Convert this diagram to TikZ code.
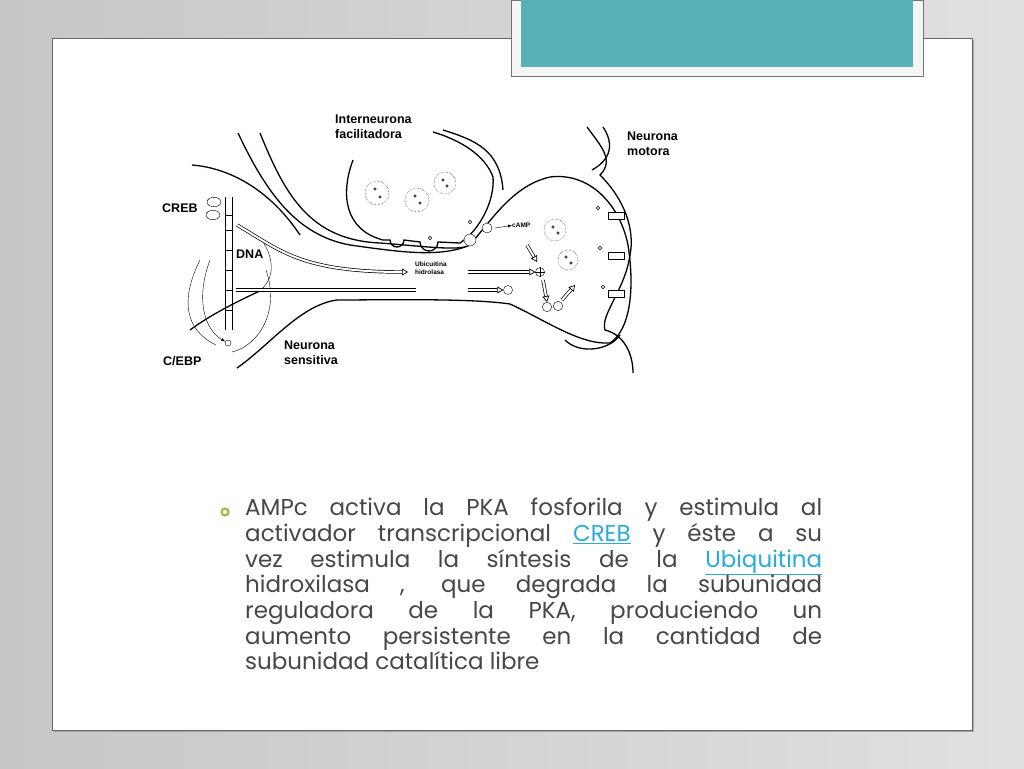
\documentclass[tikz,border=0pt]{standalone}
\usepackage{fontspec}
\setmainfont{Poppins}
\newfontfamily\lblfont{Liberation Sans}
\usetikzlibrary{arrows.meta,positioning,shapes.geometric}
\definecolor{teal}{HTML}{5AB0B8}
\definecolor{linkblue}{HTML}{2AACD8}
\definecolor{bulletgreen}{HTML}{8DC63F}
\tikzset{
  lbl/.style={font=\lblfont\bfseries\fontsize{12.5}{15}\selectfont, align=left, inner sep=0, anchor=north west},
  tiny/.style={font=\lblfont\bfseries\fontsize{6.5}{8}\selectfont, align=left, inner sep=0, anchor=north west},
  memb/.style={line width=1.3pt},
  vesicle/.style={draw, densely dotted, circle, minimum size=#1},
  dot/.style={draw, circle, inner sep=0, minimum size=3.5pt},
  pipe/.style={double, double distance=2pt, line width=0.7pt, -{Triangle[open,length=6pt,width=7pt]}}
}
\begin{document}
\begin{tikzpicture}[x=1pt,y=-1pt]
  % slide background
  \shade[left color=black!22, right color=black!12] (0,0) rectangle (1024,768);
  \useasboundingbox (0,0) rectangle (1024,768);
  \fill[black!35] (54,40) rectangle (974,732);
  \draw[black!60, fill=white] (52,38) rectangle (972,730);
  \draw[black!55, fill=white!96!black] (511,0) rectangle (923,76);
  \fill[teal] (521,0) rectangle (913,67);

  % sensory neuron
  \draw[memb] (238,133) .. controls (265,190) and (295,235) .. (350,245)
     .. controls (400,252) and (440,258) .. (470,245)
     .. controls (495,215) and (515,185) .. (550,177)
     .. controls (590,172) and (620,205) .. (628,245)
     .. controls (635,290) and (630,330) .. (610,343)
     .. controls (580,345) and (545,320) .. (510,304)
     .. controls (470,298) and (380,300) .. (337,300)
     .. controls (300,305) and (270,345) .. (237,368);
  % interneuron
  \draw[memb] (260,133) .. controls (285,195) and (310,240) .. (380,243)
     .. controls (420,246) and (450,250) .. (465,247);
  \draw[memb] (353,160) .. controls (340,195) and (345,230) .. (383,240)
     -- (390,240) arc[start angle=180, end angle=0, radius=7] -- (420,242)
     arc[start angle=180, end angle=0, radius=9] -- (460,243)
     .. controls (480,230) and (495,200) .. (493,177)
     .. controls (485,155) and (460,140) .. (433,132);
  \draw[memb] (443,130) .. controls (475,140) and (500,150) .. (503,190);
  % motor neuron
  \draw[memb] (587,127) .. controls (600,145) and (615,160) .. (600,175)
     .. controls (625,200) and (635,230) .. (630,255)
     .. controls (625,290) and (600,315) .. (605,330)
     .. controls (625,335) and (633,355) .. (633,373);
  \draw[memb] (603,127) .. controls (615,145) and (610,160) .. (592,170);
  \draw[memb] (565,340) .. controls (580,355) and (610,350) .. (620,335);
  % nucleus
  \draw[memb] (192,165) .. controls (230,168) and (270,190) .. (300,235);
  \draw[memb] (190,330) .. controls (210,315) and (240,300) .. (262,290);
  \draw (262,240) .. controls (275,260) and (275,280) .. (258,292);
  \draw (200,260) .. controls (180,300) and (185,330) .. (216,345);
  \draw (266,270) .. controls (280,310) and (260,345) .. (232,352);
  % DNA
  \draw[line width=0.9pt] (225,197) -- (225,330) (232,197) -- (232,330);
  \foreach \yy in {215,230,250,270,290,310}
    \draw[line width=0.9pt] (225,\yy) -- (232,\yy);
  \node[draw, ellipse, minimum width=14pt, minimum height=7pt] (creb1) at (214,202) {};
  \node[draw, ellipse, minimum width=14pt, minimum height=7pt] (creb2) at (213,215) {};
  \node[draw, circle, minimum size=6pt, inner sep=0] (cebp) at (228,343) {};
  \draw[-{Latex[length=4pt]}] (210,260) .. controls (195,300) and (205,330) .. (cebp);

  % vesicles
  \foreach \vx/\vy/\vr in {377/193/24, 417/200/24, 445/183/22, 555/230/22, 568/260/20}
    \node[vesicle=\vr pt] at (\vx,\vy) {};
  \foreach \vx/\vy in {375/189, 380/197, 415/196, 420/203, 443/180, 447/186, 553/227, 558/233, 566/257, 571/263}
    \node[dot, minimum size=2.5pt] at (\vx,\vy) {};
  \foreach \vx/\vy in {430/238, 470/222, 598/208, 600/248, 603/287}
    \node[dot] at (\vx,\vy) {};
  % receptors
  \foreach \ry in {212,252,290}
    \draw[fill=white, line width=0.9pt] (608,\ry) rectangle (624,\ry+7);
  \node[draw, circle, minimum size=9pt, inner sep=0, fill=white] (pka) at (540,272) {};
  \draw (540,267) -- (540,277) (535,272) -- (545,272);
  \node[draw, circle, minimum size=9pt, inner sep=0] (ubq) at (508,290) {};
  \node[draw, ellipse, minimum width=8pt, minimum height=4pt] (cat1) at (547,307) {};
  \node[draw, ellipse, minimum width=8pt, minimum height=4pt] (cat2) at (558,306) {};
  \node[draw, circle, minimum size=10pt, inner sep=0, fill=white] (rec) at (487,228) {};
  \draw[fill=white] (470,240) circle (6pt);

  % labels
  \node[lbl] (inter) at (335,115) {Interneurona\\facilitadora};
  \node[lbl] (motor) at (627,132) {Neurona\\motora};
  \node[lbl] (creb) at (162,204) {CREB};
  \node[lbl] (dna) at (236,250) {DNA};
  \node[lbl] (cebplbl) at (163,356) {C/EBP};
  \node[lbl] (sens) at (284,341) {Neurona\\sensitiva};
  \node[tiny] (camp) at (512,223) {cAMP};
  \node[tiny] (ubh) at (415,262) {Ubicuitina\\hidrolasa};

  % arrows
  \coordinate (p1) at (237,225);
  \coordinate (p2) at (408,272);
  \coordinate (p3) at (468,272);
  \coordinate (p4) at (236,290);
  \coordinate (p5) at (416,290);
  \coordinate (p6) at (468,290);
  \draw[pipe] (p1) .. controls (280,250) and (300,272) .. (p2);
  \draw[pipe] (p3) -- (pka);
  \draw[double, double distance=2pt, line width=0.7pt] (p4) -- (p5);
  \draw[pipe] (p6) -- (ubq);
  \draw[-{Latex[length=4pt]}] (495,228) -- (camp.west);
  \draw[pipe] (527,245) -- (537,262);
  \draw[pipe] (543,280) -- (547,302);
  \draw[pipe] (562,300) -- (575,285);

  % bullet text
  \draw[bulletgreen, line width=2.2pt] (225,512) circle (3.5pt);
  \node[anchor=north west, inner sep=0, text width=577pt, align=justify,
        font=\fontsize{23}{25.7}\selectfont, text=black!72] (body) at (245,498)
    {AMPc activa la PKA fosforila y estimula al\linebreak
     activador transcripcional {\color{linkblue}\underline{CREB}} y éste a su\linebreak
     vez estimula la síntesis de la {\color{linkblue}\underline{Ubiquitina}}\linebreak
     hidroxilasa , que degrada la subunidad\linebreak
     reguladora de la PKA, produciendo un\linebreak
     aumento persistente en la cantidad de\linebreak
     subunidad catalítica libre};
\end{tikzpicture}
\end{document}
